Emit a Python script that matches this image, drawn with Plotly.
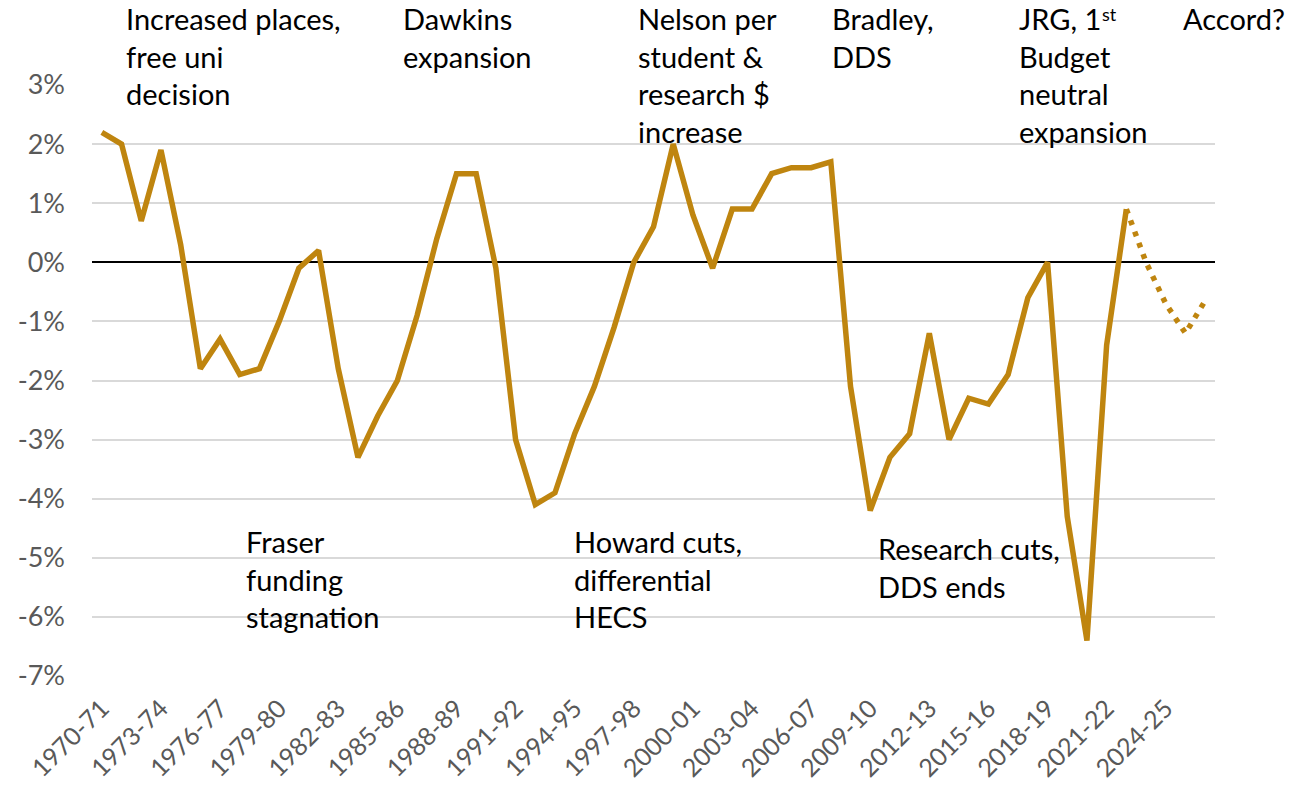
import plotly.graph_objects as go

# Financial years 1970-71 .. 2026-27
years = [f"{y}-{str(y + 1)[-2:]}" for y in range(1970, 2027)]

# Actual series, 1970-71 .. 2022-23 (% change)
actual = [2.2, 2.0, 0.7, 1.9, 0.3, -1.8, -1.3, -1.9, -1.8, -1.0,
          -0.1, 0.2, -1.8, -3.3, -2.6, -2.0, -0.9, 0.4, 1.5, 1.5,
          -0.1, -3.0, -4.1, -3.9, -2.9, -2.1, -1.1, 0.0, 0.6, 2.0,
          0.8, -0.1, 0.9, 0.9, 1.5, 1.6, 1.6, 1.7, -2.1, -4.2,
          -3.3, -2.9, -1.2, -3.0, -2.3, -2.4, -1.9, -0.6, 0.0, -4.3,
          -6.4, -1.4, 0.9]
# Projection, 2022-23 .. 2026-27
proj_years = years[52:57]
projection = [0.9, 0.0, -0.7, -1.2, -0.65]

x_tickvals = years[0:57:3]
y_tickvals = [-7, -6, -5, -4, -3, -2, -1, 0, 1, 2, 3]
y_ticktext = ["-7%", "-6%", "-5%", "-4%", "-3%", "-2%", "-1%", "0%", "1%", "2%", "3%"]

# Annotation texts: (text, px_left, px_top, size)
notes = [
    ("Increased places,<br>free uni<br>decision", 125, 0, 29),
    ("Dawkins<br>expansion", 402, 0, 29),
    ("Nelson per<br>student &<br>research $<br>increase", 637, 0, 29),
    ("Bradley,<br>DDS", 831, 0, 29),
    ("JRG, 1<br>Budget<br>neutral<br>expansion", 1018, 0, 29),
    ("st", 1101, 2, 18),
    ("Accord?", 1182, 0, 29),
    ("Fraser<br>funding<br>stagnation", 245, 523, 29),
    ("Howard cuts,<br>differential<br>HECS", 573, 523, 29),
    ("Research cuts,<br>DDS ends", 877, 530, 29),
]

W, H = 1299, 802
L, R, T, B = 92, 84, 85, 126
color = "#BF850F"
FONT = "Lato, Carlito, Calibri, sans-serif"

fig = go.Figure()
fig.add_trace(go.Scatter(x=years[:53], y=actual, mode="lines",
                         line=dict(color=color, width=5.5), showlegend=False,
                         hoverinfo="x+y"))
fig.add_trace(go.Scatter(x=proj_years, y=projection, mode="lines",
                         line=dict(color=color, width=5.5, dash="5px,7px"),
                         showlegend=False, hoverinfo="x+y"))

pw = W - L - R
ph = H - T - B
for text, px, py, sz in notes:
    fig.add_annotation(text=text, xref="paper", yref="paper",
                       x=(px - L) / pw, y=(H - B - py) / ph,
                       xanchor="left", yanchor="top", align="left",
                       showarrow=False, borderpad=0,
                       font=dict(family=FONT, size=sz, color="black"))

fig.update_layout(
    width=W, height=H,
    margin=dict(l=L, r=R, t=T, b=B),
    paper_bgcolor="white", plot_bgcolor="white",
    font=dict(family=FONT),
)
fig.update_xaxes(type="category", categoryorder="array", categoryarray=years,
                 range=[-0.5, 56.5], tickmode="array", tickvals=x_tickvals,
                 ticktext=x_tickvals, tickangle=-45,
                 tickfont=dict(family=FONT, size=25, color="#595959"),
                 showgrid=False, showline=False, ticks="", ticklabelstandoff=12)
fig.update_yaxes(range=[-7, 3], tickmode="array", tickvals=y_tickvals,
                 ticktext=y_ticktext,
                 tickfont=dict(family=FONT, size=27, color="#595959"),
                 showgrid=True, gridcolor="#D9D9D9", gridwidth=1.5,
                 zeroline=True, zerolinecolor="black", zerolinewidth=2,
                 showline=False, ticks="", ticklabelstandoff=26)

fig.write_html("out.html", config={"displayModeBar": False},
               post_script="document.body.style.margin='0';")
